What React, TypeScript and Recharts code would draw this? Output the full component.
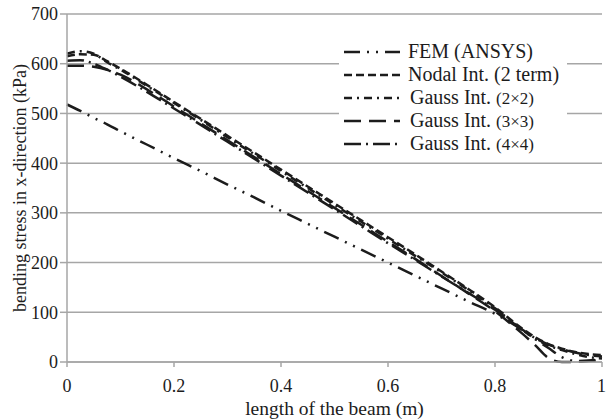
import { CartesianGrid, Line, LineChart, XAxis, YAxis } from "recharts"

const xs = [0, 0.025, 0.05, 0.075, 0.1, 0.15, 0.2, 0.25, 0.3, 0.35, 0.4, 0.45, 0.5, 0.55, 0.6, 0.65, 0.7, 0.75, 0.8, 0.85, 0.875, 0.9, 0.925, 0.95, 0.975, 1]

const femAnsys = [518, 505, 491, 478, 464, 437, 410, 384, 357, 331, 304, 278, 252, 226, 200, 174, 148, 122, 97, 65, 46, 28, 10, 2, 3, 6]
const nodal2 = [615, 619, 618, 605, 590, 557, 523, 489, 455, 421, 387, 353, 319, 285, 251, 217, 182, 147, 110, 68, 50, 36, 27, 20, 16, 14]
const gauss2 = [620, 625, 620, 603, 588, 555, 521, 487, 452, 418, 384, 350, 316, 282, 248, 214, 180, 145, 108, 65, 47, 33, 24, 16, 10, 7]
const gauss3 = [596, 596, 594, 588, 578, 548, 514, 480, 446, 412, 378, 344, 310, 276, 242, 208, 173, 138, 102, 58, 34, 8, 0, 0, 2, 4]
const gauss4 = [606, 607, 600, 588, 574, 543, 510, 477, 443, 409, 375, 341, 307, 273, 239, 206, 172, 139, 105, 66, 48, 35, 26, 19, 14, 11]

const xTicks = [0, 0.2, 0.4, 0.6, 0.8, 1]
const yTicks = [0, 100, 200, 300, 400, 500, 600, 700]

const SERIES = [
  { key: "fem", name: "FEM (ANSYS)", dash: "16 7 2 7 2 7", small: "" },
  { key: "nodal", name: "Nodal Int. (2 term)", dash: "8 4", small: "" },
  { key: "g2", name: "Gauss Int. ", dash: "8 5 2 5", small: "(2×2)" },
  { key: "g3", name: "Gauss Int. ", dash: "17 8", small: "(3×3)" },
  { key: "g4", name: "Gauss Int. ", dash: "17 5 2 5", small: "(4×4)" },
]

const data = xs.map((x, i) => ({
  x,
  fem: femAnsys[i],
  nodal: nodal2[i],
  g2: gauss2[i],
  g3: gauss3[i],
  g4: gauss4[i],
}))

const FONT = '"Liberation Serif", "Times New Roman", serif'
const GRID = "#a6a6a6"
const INK = "#1c1c1c"

function LegendBox() {
  return (
    <div
      style={{
        position: "absolute",
        left: 339,
        top: 38,
        width: 228,
        background: "#fff",
        padding: "2px 0 5px 5px",
        boxSizing: "border-box",
        fontFamily: FONT,
        fontSize: 20,
        color: INK,
        lineHeight: "23px",
      }}
    >
      {SERIES.map((s) => (
        <div key={s.key} style={{ display: "flex", alignItems: "center", height: 23, whiteSpace: "nowrap" }}>
          <svg width={56} height={10} style={{ marginRight: s.small ? 10 : 8, flex: "none" }}>
            <line x1={0} y1={5} x2={56} y2={5} stroke={INK} strokeWidth={2.5} strokeDasharray={s.dash} />
          </svg>
          <span>
            {s.name}
            {s.small ? <span style={{ fontSize: 17 }}>{s.small}</span> : null}
          </span>
        </div>
      ))}
    </div>
  )
}

export default function App() {
  return (
    <div style={{ position: "fixed", left: 0, top: 0, width: 606, height: 419, background: "#fff", fontFamily: FONT }}>
      <style>{`.recharts-wrapper text, .recharts-wrapper tspan { font-family: ${FONT} !important; }`}</style>
      <LineChart width={606} height={419} data={data} margin={{ top: 14, right: 4, left: 0, bottom: 0 }} style={{ fontFamily: FONT }}>
        <CartesianGrid horizontal vertical={false} stroke={GRID} strokeWidth={1.5} />
        <XAxis
          dataKey="x"
          type="number"
          domain={[0, 1]}
          ticks={xTicks}
          tickFormatter={(v) => String(v)}
          tick={{ fill: INK, fontSize: 18, fontFamily: FONT }}
          axisLine={{ stroke: GRID, strokeWidth: 1.5 }}
          tickLine={{ stroke: GRID, strokeWidth: 1.5 }}
          tickSize={5}
          tickMargin={12}
          height={57}
          label={{ value: "length of the beam (m)", position: "insideBottom", offset: 4, fill: INK, fontSize: 19.5, fontFamily: FONT }}
        />
        <YAxis
          type="number"
          domain={[0, 700]}
          ticks={yTicks}
          tick={{ fill: INK, fontSize: 18, fontFamily: FONT }}
          axisLine={{ stroke: GRID, strokeWidth: 1.5 }}
          tickLine={{ stroke: GRID, strokeWidth: 1.5 }}
          tickSize={7}
          tickMargin={2}
          width={67}
          label={{ value: "bending stress in x-direction (kPa)", angle: -90, position: "insideLeft", offset: 20, style: { textAnchor: "middle" }, fill: INK, fontSize: 18, fontFamily: FONT }}
        />
        {SERIES.map((s) => (
          <Line
            key={s.key}
            type="monotone"
            dataKey={s.key}
            name={s.name}
            stroke={INK}
            strokeWidth={2.5}
            strokeDasharray={s.dash}
            dot={false}
            isAnimationActive={false}
          />
        ))}
      </LineChart>
      <LegendBox />
    </div>
  )
}
